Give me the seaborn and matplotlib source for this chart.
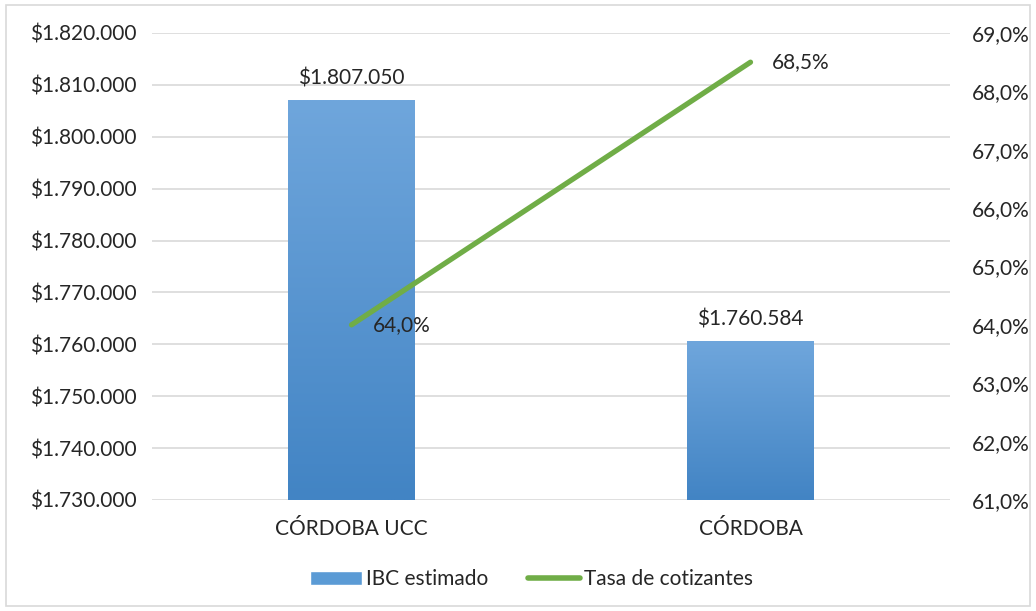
import numpy as np, pandas as pd
import matplotlib as mpl, matplotlib.pyplot as plt
import seaborn as sns
from matplotlib.patches import Rectangle
from matplotlib.lines import Line2D

sns.set_theme(style="white")
plt.rcParams["font.family"] = ["Lato", "DejaVu Sans"]

# datos
categorias = ["CÓRDOBA UCC", "CÓRDOBA"]
ibc = [1807050, 1760584]
tasa = [64.0, 68.5]

def pesos(v):
    return "$" + f"{v:,.0f}".replace(",", ".")

def pct(v):
    return f"{v:.1f}".replace(".", ",") + "%"

df = pd.DataFrame({"cat": categorias, "ibc": ibc, "tasa": tasa})
FS = 15

fig = plt.figure(figsize=(10.36, 6.11), dpi=100)
ax = fig.add_axes([0.1467, 0.1817, 0.917 - 0.1467, 0.946 - 0.1817])
fig.patches.append(Rectangle((0.006, 0.008), 0.988, 0.984, transform=fig.transFigure,
                             fill=False, ec="#D9D9D9", lw=1.2))

sns.barplot(data=df, x="cat", y="ibc", color="#5B9BD5", width=0.316, ax=ax, zorder=3)
ax.set_ylim(1730000, 1820000)
ax.set_yticks(np.arange(1730000, 1820001, 10000))
ax.yaxis.set_major_formatter(mpl.ticker.FuncFormatter(lambda v, p: pesos(v)))

# degradado en las barras
grad = np.linspace(0, 1, 256).reshape(-1, 1)
cmap = mpl.colors.LinearSegmentedColormap.from_list("g", ["#4284C4", "#6FA6DC"])
for p, v in zip(ax.patches, ibc):
    x0, w = p.get_x(), p.get_width()
    p.set_facecolor("none"); p.set_edgecolor("none")
    im = ax.imshow(grad, cmap=cmap, origin="lower", aspect="auto",
                   extent=(x0, x0 + w, 1730000, v), zorder=3)
    im.set_clip_path(p)
    ax.text(x0 + w / 2, v + 2300, pesos(v), ha="center", va="bottom", fontsize=FS, color="#262626")
ax.set_xlim(-0.5, 1.5)
ax.set_ylim(1730000, 1820000)

ax.grid(axis="y", color="#D9D9D9", lw=1.2, zorder=0)
ax.set_axisbelow(True)
for s in ax.spines.values():
    s.set_visible(False)
ax.set_xlabel(None); ax.set_ylabel(None)
ax.tick_params(axis="both", length=0, labelsize=FS, colors="#262626")
ax.tick_params(axis="y", pad=11)
ax.tick_params(axis="x", pad=14)

ax2 = ax.twinx()
sns.lineplot(x=[0, 1], y=tasa, color="#70AD47", lw=3.8, ax=ax2, zorder=5,
             solid_capstyle="round")
ax2.set_ylim(61, 69)
ax2.set_yticks(np.arange(61, 69.1, 1))
ax2.yaxis.set_major_formatter(mpl.ticker.FuncFormatter(lambda v, p: pct(v)))
ax2.set_xlim(-0.5, 1.5)
for s in ax2.spines.values():
    s.set_visible(False)
ax2.tick_params(axis="y", length=0, labelsize=FS, colors="#262626", pad=16)
ax2.set_ylabel(None)
for i, v in enumerate(tasa):
    ax2.text(i + 0.053, v, pct(v), ha="left", va="center", fontsize=FS, color="#262626")

handles = [Rectangle((0, 0), 1, 1, fc="#5B9BD5"),
           Line2D([0], [0], color="#70AD47", lw=4, solid_capstyle="round")]
fig.legend(handles, ["IBC estimado", "Tasa de cotizantes"], loc="center",
           bbox_to_anchor=(0.513, 0.052), ncol=2, frameon=False, fontsize=FS,
           handlelength=2.5, handletextpad=0.2, columnspacing=1.9)

fig.savefig("out.png", dpi=100)
